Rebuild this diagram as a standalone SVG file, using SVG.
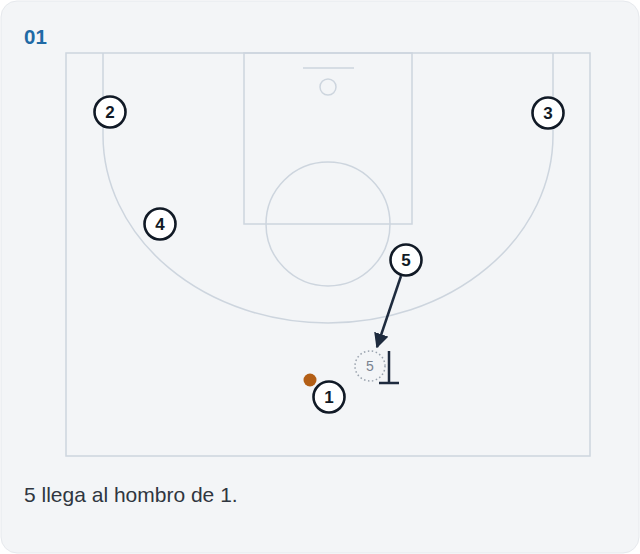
<svg xmlns="http://www.w3.org/2000/svg" width="640" height="554" viewBox="0 0 640 554">
<defs>
<style>
.court{fill:none;stroke:#cdd5de;stroke-width:1.5}
.pl circle{fill:#ffffff;stroke:#111a26;stroke-width:2.6}
.pl text{font-family:"Liberation Sans",Arial,sans-serif;font-size:17px;font-weight:bold;fill:#111a26;text-anchor:middle}
.conn{stroke:#1e2b3e;stroke-width:2.5;fill:none}
</style>
<marker id="ah" viewBox="0 0 10 10" refX="9" refY="5" markerWidth="6" markerHeight="6" orient="auto" markerUnits="strokeWidth">
<path d="M0,0 L10,5 L0,10 z" fill="#1e2b3e"/>
</marker>
</defs>
<rect x="0" y="0" width="640" height="554" fill="#ffffff"/>
<rect x="1" y="1" width="638" height="552" rx="16" fill="#f3f5f7" stroke="#e6e9ed" stroke-width="1"/>
<text x="24" y="44" font-family="Liberation Sans,Arial,sans-serif" font-size="20.5" font-weight="bold" fill="#1f6aa5">01</text>
<g id="court">
<rect class="court" x="66" y="53" width="524" height="403"/>
<rect class="court" x="244" y="53" width="168" height="171"/>
<line class="court" x1="303" y1="68" x2="354" y2="68"/>
<circle class="court" cx="328" cy="87" r="8"/>
<circle class="court" cx="328" cy="224" r="62"/>
<path class="court" d="M103,53 L103,135 A225,188 0 0 0 553,135 L553,53"/>
</g>
<g id="connectors">
<line class="conn" x1="401" y1="276" x2="377" y2="347" marker-end="url(#ah)"/>
<path class="conn" d="M389,351 L389,383 M379,383 L399,383" stroke-width="3.8"/>
</g>
<g id="ghost5">
<circle cx="370" cy="366" r="15" fill="none" stroke="#9aa3ae" stroke-width="1.5" stroke-dasharray="1.5 2.5"/>
<text x="370" y="371" font-family="Liberation Sans,Arial,sans-serif" font-size="14" fill="#7a8390" text-anchor="middle">5</text>
</g>
<g id="p2" class="pl"><circle cx="110" cy="112" r="15.5"/><text x="110" y="118">2</text></g>
<g id="p3" class="pl"><circle cx="548" cy="113" r="15.5"/><text x="548" y="119">3</text></g>
<g id="p4" class="pl"><circle cx="160" cy="224" r="15.5"/><text x="160" y="230">4</text></g>
<g id="p5" class="pl"><circle cx="406" cy="260" r="15.5"/><text x="406" y="266">5</text></g>
<g id="p1" class="pl"><circle cx="329" cy="397" r="15.5"/><text x="329" y="403">1</text></g>
<g id="ball"><circle cx="310" cy="380" r="6.5" fill="#b35f16"/></g>
<text x="24" y="502" font-family="Liberation Sans,Arial,sans-serif" font-size="21" fill="#2f3640">5 llega al hombro de 1.</text>
</svg>
